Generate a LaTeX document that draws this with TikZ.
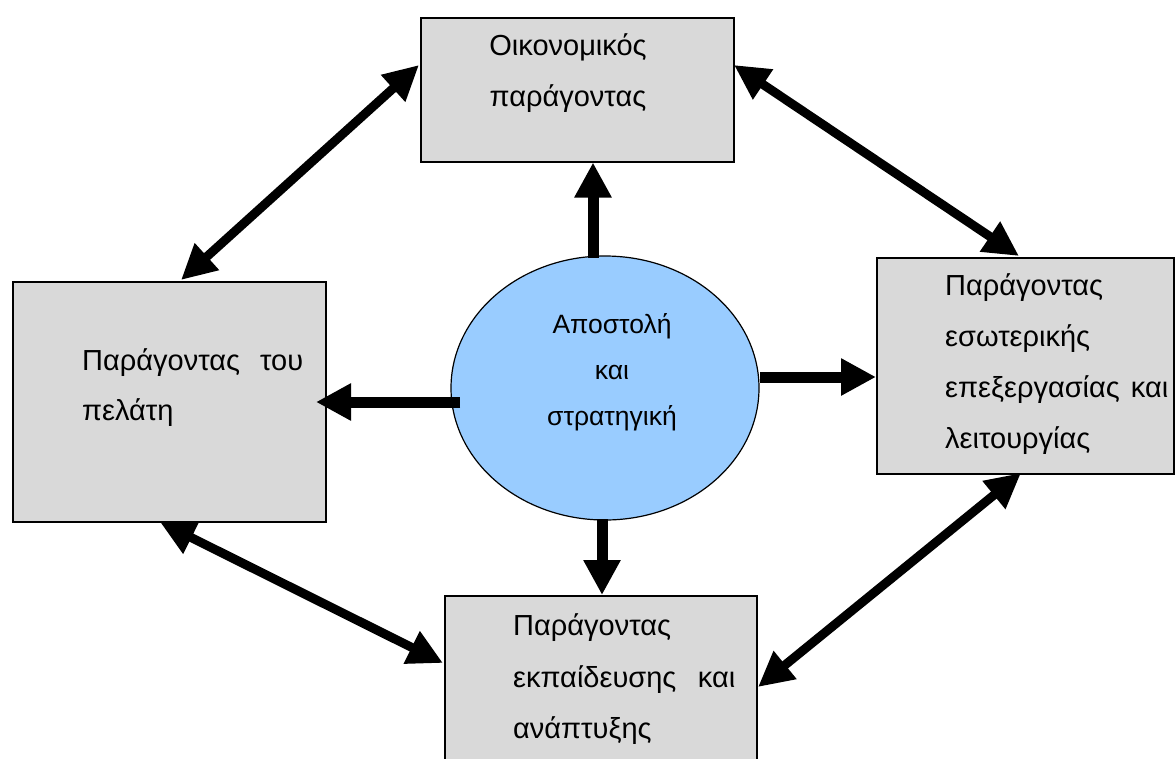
\documentclass[tikz,border=0pt]{standalone}
\usepackage{fontspec}
\setmainfont{Liberation Sans}
\usetikzlibrary{arrows.meta,shapes.geometric,calc}
\definecolor{boxgray}{HTML}{D9D9D9}
\definecolor{ellblue}{HTML}{99CCFF}
\begin{document}
\begin{tikzpicture}[x=1pt,y=-1pt,
  factorbox/.style={draw=black,line width=1.5pt,fill=boxgray,rectangle,inner sep=0pt,anchor=north west},
  lbl/.style={font=\fontsize{29}{29}\selectfont,inner sep=0pt,anchor=base west},
  clbl/.style={font=\fontsize{29}{29}\selectfont,inner sep=0pt,anchor=base},
  elbl/.style={font=\fontsize{26.5}{26.5}\selectfont,inner sep=0pt,anchor=base},
  onearrow/.style={line width=11pt,-{Triangle[length=35pt,width=35pt]}},
  twoarrow/.style={line width=9pt,{Triangle[length=35pt,width=34pt]}-{Triangle[length=35pt,width=34pt]}}]
\useasboundingbox (0,0) rectangle (1175,758);

% factor boxes
\node[factorbox,minimum width=313pt,minimum height=144pt] (fin) at (420,17) {};
\node[factorbox,minimum width=313pt,minimum height=240pt] (cust) at (12,281) {};
\node[factorbox,minimum width=297pt,minimum height=216pt] (proc) at (876,257) {};
\node[factorbox,minimum width=312pt,minimum height=180pt] (learn) at (444,595) {};

% mission and strategy
\node[ellipse,draw=black,line width=1.2pt,fill=ellblue,minimum width=308pt,minimum height=264pt,inner sep=0pt] (ell) at (605,388) {};

% labels
\node[clbl] (fin1) at (568,55) {Οικονομικός};
\node[clbl] (fin2) at (568,106) {παράγοντας};

\node[lbl] (cust1) at (82,370) {\hbox to 221pt{Παράγοντας\hfill του}};
\node[lbl] (cust2) at (82,420) {πελάτη};

\node[lbl] (proc1) at (945,295) {Παράγοντας};
\node[lbl] (proc2) at (945,346) {εσωτερικής};
\node[lbl] (proc3) at (945,397) {\hbox to 223pt{επεξεργασίας\hfill και}};
\node[lbl] (proc4) at (945,448) {λειτουργίας};

\node[lbl] (learn1) at (513,635) {Παράγοντας};
\node[lbl] (learn2) at (513,687) {\hbox to 222pt{εκπαίδευσης\hfill και}};
\node[lbl] (learn3) at (513,738) {ανάπτυξης};

\node[elbl] (ell1) at (612,333) {Αποστολή};
\node[elbl] (ell2) at (612,379) {και};
\node[elbl] (ell3) at (612,425) {στρατηγική};

% arrows from the centre to each factor
\coordinate (upfrom) at (593,258);
\coordinate (leftfrom) at (460,402);
\coordinate (rightfrom) at (760,377);
\coordinate (downfrom) at (602,519);
\draw[onearrow] (upfrom) -- (upfrom |- fin.south);
\draw[onearrow] (leftfrom) -- (316,402);
\draw[onearrow] (rightfrom) -- (rightfrom -| proc.west);
\draw[onearrow] (downfrom) -- (downfrom |- learn.north);

% links between neighbouring factors
\coordinate (finL) at (419,65);
\coordinate (custT) at (181,280);
\coordinate (finR) at (734,65);
\coordinate (procT) at (1019,256);
\coordinate (custB) at (160,522);
\coordinate (learnL) at (443,663);
\coordinate (procB) at (1021,473);
\coordinate (learnR) at (758,687);
\draw[twoarrow] (finL) -- (custT);
\draw[twoarrow] (finR) -- (procT);
\draw[twoarrow] (custB) -- (learnL);
\draw[twoarrow] (procB) -- (learnR);
\end{tikzpicture}
\end{document}
